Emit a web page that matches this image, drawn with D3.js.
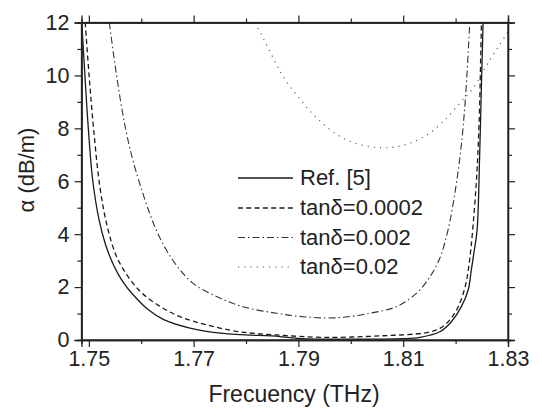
<!DOCTYPE html>
<html lang="en">
<meta charset="utf-8">
<head>
    <script src="https://d3js.org/d3.v7.min.js"></script>
    <style>
        body { margin: 0; background: #fff; }
        text { font-family: "Liberation Sans", Arial, sans-serif; fill: #222; }
    </style>
</head>
<body>
<script>
    // values (frequency in THz, loss in dB/m)
    var freqRef = [1.74866, 1.74925, 1.74990, 1.75076, 1.7520, 1.7532, 1.7548, 1.7565, 1.7585, 1.7613, 1.7642, 1.7693, 1.7756, 1.7865, 1.7908, 1.8000, 1.8099, 1.8132, 1.8170, 1.8192, 1.8211, 1.8224, 1.8230, 1.8235, 1.8241, 1.8246, 1.8250, 1.82525]
    var alphaRef = [12, 10, 8, 6, 4.5, 3.6, 2.8, 2.2, 1.7, 1.15, 0.78, 0.45, 0.25, 0.13, 0.05, 0.03, 0.05, 0.10, 0.31, 0.69, 1.26, 1.89, 2.65, 3.3, 4.16, 7.07, 10.2, 12]

    var freqT1 = [1.7493, 1.75005, 1.7509, 1.7521, 1.7535, 1.7552, 1.7573, 1.7600, 1.7635, 1.7674, 1.7725, 1.7788, 1.7858, 1.7950, 1.8060, 1.8145, 1.8170, 1.8189, 1.8205, 1.8218, 1.8226, 1.8239, 1.8245, 1.8248, 1.82494]
    var alphaT1 = [12, 10, 8, 5.8, 4.3, 3.2, 2.45, 1.8, 1.28, 0.88, 0.57, 0.31, 0.19, 0.10, 0.16, 0.28, 0.44, 0.76, 1.26, 2.0, 2.9, 5.8, 8.3, 10.8, 12]

    var freqT2 = [1.7539, 1.7550, 1.7560, 1.7570, 1.7582, 1.7597, 1.7616, 1.7630, 1.7648, 1.7670, 1.7699, 1.7744, 1.7794, 1.7858, 1.7909, 1.7973, 1.8036, 1.8087, 1.8125, 1.8151, 1.8170, 1.8186, 1.8199, 1.8210, 1.8219, 1.8227]
    var alphaT2 = [12, 10.4, 9.1, 8.0, 6.95, 5.92, 4.79, 4.1, 3.4, 2.75, 2.14, 1.64, 1.26, 1.01, 0.88, 0.84, 1.01, 1.26, 1.76, 2.39, 3.1, 4.2, 5.6, 7.2, 9.2, 12]

    var freqT3 = [1.7817, 1.7833, 1.7852, 1.7871, 1.7899, 1.7931, 1.7966, 1.8004, 1.8055, 1.8094, 1.8138, 1.8176, 1.8208, 1.8233, 1.8265, 1.8284, 1.8300]
    var alphaT3 = [12, 11.4, 10.65, 9.95, 9.2, 8.47, 7.87, 7.46, 7.27, 7.33, 7.66, 8.25, 8.95, 9.51, 10.58, 11.15, 11.65]

    var xTicks = [1.75, 1.77, 1.79, 1.81, 1.83]
    var xMinor = [1.76, 1.78, 1.80, 1.82]
    var yTicks = [0, 2, 4, 6, 8, 10, 12]
    var yMinor = [1, 3, 5, 7, 9, 11]

    var legendNames = ["Ref. [5]", "tan\u03b4=0.0002", "tan\u03b4=0.002", "tan\u03b4=0.02"]

    var series = [
        {f: freqRef, a: alphaRef, dash: null, w: 1.3, color: "#1a1a1a"},
        {f: freqT1, a: alphaT1, dash: "5,3.3", w: 1.3, color: "#1a1a1a"},
        {f: freqT2, a: alphaT2, dash: "7,3,1.5,3", w: 1.1, color: "#333"},
        {f: freqT3, a: alphaT3, dash: "1.2,5", w: 1.1, color: "#555"}
    ]

    var width = 542, height = 411
    var pLeft = 81.5, pRight = 508, pTop = 22.5, pBottom = 340

    var svg = d3.select("body").append("svg")
        .attr("width", width)
        .attr("height", height)

    var x = d3.scaleLinear().domain([1.7486, 1.83]).range([pLeft, pRight])
    var y = d3.scaleLinear().domain([0, 12]).range([pBottom, pTop])

    svg.append("clipPath").attr("id", "clip")
        .append("rect")
        .attr("x", pLeft).attr("y", pTop)
        .attr("width", pRight - pLeft).attr("height", pBottom - pTop)

    var line = d3.line()
        .x(function(d) { return x(d[0]) })
        .y(function(d) { return y(d[1]) })
        .curve(d3.curveCatmullRom.alpha(0.5))

    var plot = svg.append("g").attr("clip-path", "url(#clip)")
    series.forEach(function(s) {
        var pts = s.f.map(function(v, i) { return [v, s.a[i]] })
        plot.append("path")
            .datum(pts)
            .attr("fill", "none")
            .attr("stroke", s.color)
            .attr("stroke-width", s.w)
            .attr("stroke-dasharray", s.dash)
            .attr("d", line)
    })

    // axes
    function styleAxis(g) {
        g.selectAll("path").attr("stroke", "#222").attr("stroke-width", 1.3)
        g.selectAll("line").attr("stroke", "#222").attr("stroke-width", 1.2)
        g.selectAll("text").style("font-size", "21.5px").attr("fill", "#222")
    }

    svg.append("g").attr("transform", "translate(0," + pBottom + ")")
        .call(d3.axisBottom(x).tickValues(xTicks).tickSizeOuter(0).tickSize(7).tickPadding(4)
            .tickFormat(d3.format(".2f")))
        .call(styleAxis)
    svg.append("g").attr("transform", "translate(0," + pBottom + ")")
        .call(d3.axisBottom(x).tickValues(xMinor).tickSizeOuter(0).tickSize(4).tickFormat(""))
        .call(styleAxis)

    svg.append("g").attr("transform", "translate(0," + pTop + ")")
        .call(d3.axisTop(x).tickValues(xTicks).tickSizeOuter(0).tickSize(7).tickFormat(""))
        .call(styleAxis)
    svg.append("g").attr("transform", "translate(0," + pTop + ")")
        .call(d3.axisTop(x).tickValues(xMinor).tickSizeOuter(0).tickSize(4).tickFormat(""))
        .call(styleAxis)

    svg.append("g").attr("transform", "translate(" + pLeft + ",0)")
        .call(d3.axisLeft(y).tickValues(yTicks).tickSizeOuter(0).tickSize(7).tickPadding(5))
        .call(styleAxis)
    svg.append("g").attr("transform", "translate(" + pLeft + ",0)")
        .call(d3.axisLeft(y).tickValues(yMinor).tickSizeOuter(0).tickSize(4).tickFormat(""))
        .call(styleAxis)

    svg.append("g").attr("transform", "translate(" + pRight + ",0)")
        .call(d3.axisRight(y).tickValues(yTicks).tickSizeOuter(0).tickSize(7).tickFormat(""))
        .call(styleAxis)
    svg.append("g").attr("transform", "translate(" + pRight + ",0)")
        .call(d3.axisRight(y).tickValues(yMinor).tickSizeOuter(0).tickSize(4).tickFormat(""))
        .call(styleAxis)

    // frame so the box is closed
    svg.append("rect")
        .attr("x", pLeft).attr("y", pTop)
        .attr("width", pRight - pLeft).attr("height", pBottom - pTop)
        .attr("fill", "none").attr("stroke", "#222").attr("stroke-width", 1.3)

    // axis titles
    svg.append("text")
        .attr("x", 294).attr("y", 402)
        .attr("text-anchor", "middle")
        .style("font-size", "23px")
        .text("Frecuency (THz)")

    svg.append("text")
        .attr("transform", "translate(34,170) rotate(-90)")
        .attr("text-anchor", "middle")
        .style("font-size", "22px")
        .text("\u03b1 (dB/m)")

    // legend
    var legY = [178, 208, 237.5, 267]
    var leg = svg.append("g")
    series.forEach(function(s, i) {
        leg.append("line")
            .attr("x1", 238).attr("x2", 293)
            .attr("y1", legY[i]).attr("y2", legY[i])
            .attr("stroke", s.color)
            .attr("stroke-width", s.w)
            .attr("stroke-dasharray", s.dash)
        leg.append("text")
            .attr("x", 300).attr("y", legY[i] + 7)
            .style("font-size", "22px")
            .text(legendNames[i])
    })
</script>
</body>
</html>
